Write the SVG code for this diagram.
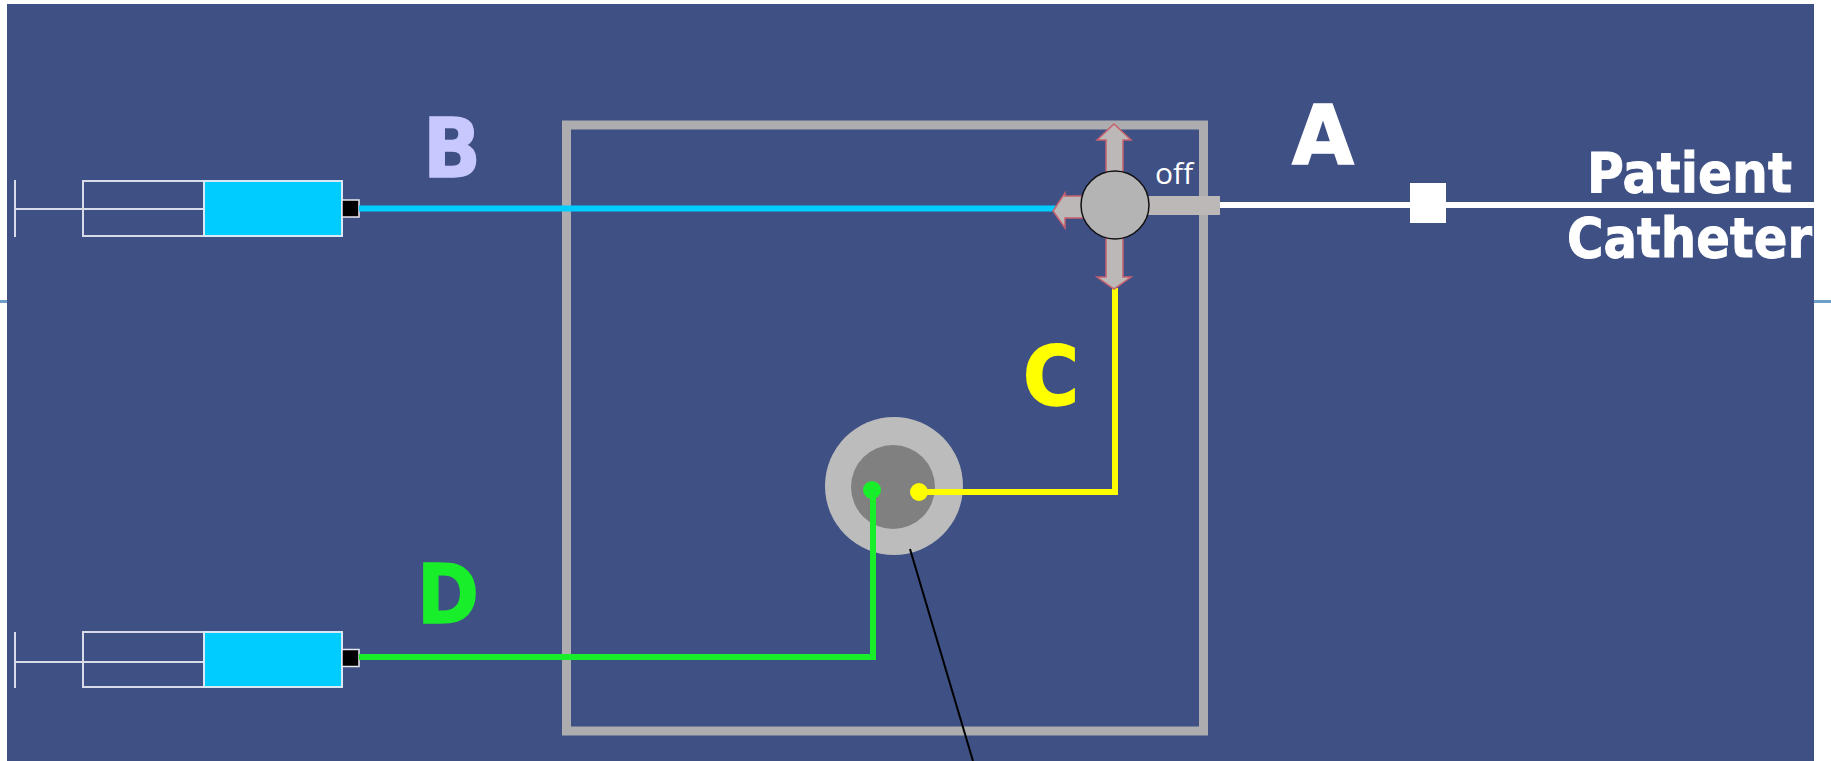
<svg xmlns="http://www.w3.org/2000/svg" width="1831" height="761" viewBox="0 0 1831 761">
<style>
.lbl{font-family:"DejaVu Sans",sans-serif;font-weight:700;font-size:82px;text-anchor:middle;stroke-width:1.500}
.cath{font-family:"DejaVu Sans",sans-serif;font-weight:700;font-size:56px;fill:#fff;stroke:#fff;stroke-width:1}
.syr{fill:none;stroke:#d8dce8;stroke-width:2}
.barrel{fill:#00ccff;stroke:#d8e8f4;stroke-width:2}
.tip{fill:#000;stroke:#e8e8f0;stroke-width:1.500}
.tube{fill:#bdb8b8}
.arm{fill:#bdb8b8;stroke:#c8606e;stroke-width:1.500}
.wire{fill:none;stroke-width:6}
</style>
<rect width="1831" height="761" fill="#fff"/>
<rect x="0" y="300" width="7" height="3" fill="#6f9fc8"/>
<rect x="1814" y="300" width="17" height="3" fill="#6f9fc8"/>
<rect x="7" y="4" width="1807" height="757" fill="#3e5084"/>
<g id="housing"><rect x="566.500" y="125" width="637" height="606" fill="none" stroke="#adadb0" stroke-width="9"/></g>
<g id="syringe-b">
<path class="syr" d="M15 180V237M15 209H204"/>
<rect class="syr" x="83" y="181" width="121" height="55"/>
<rect class="barrel" x="204" y="181" width="138" height="55"/>
<rect class="tip" x="342" y="200" width="17" height="17"/>
</g>
<g id="syringe-d">
<path class="syr" d="M15 632V688M15 662H204"/>
<rect class="syr" x="83" y="632" width="121" height="55"/>
<rect class="barrel" x="204" y="632" width="138" height="55"/>
<rect class="tip" x="342" y="649.500" width="17" height="17"/>
</g>
<g id="filter">
<circle cx="894" cy="486" r="69" fill="#bcbcbc"/>
<circle cx="893" cy="487" r="42" fill="#808080"/>
</g>
<g id="connectors">
<path class="wire" stroke="#00ccff" d="M359 208.500H1056"/>
<path class="wire" stroke="#ffff00" d="M919 492H1115V288"/>
<path class="wire" stroke="#19ee2a" d="M359 657H873V490"/>
<path class="wire" stroke="#fff" d="M1220 205H1814"/>
<path fill="none" stroke="#000" stroke-width="2" d="M910 549L973 761"/>
</g>
<g id="ports">
<circle cx="872" cy="490" r="9" fill="#19ee2a"/>
<circle cx="919" cy="492" r="9" fill="#ffff00"/>
</g>
<g id="stopcock">
<path class="arm" d="M1106 175V140H1097L1114 124L1131 140H1123V175Z"/>
<path class="arm" d="M1106 236V277H1097L1114 289L1131 277H1123V236Z"/>
<path class="arm" d="M1088 196H1065V193L1053 211L1065 228V218H1088Z"/>
<rect class="tube" x="1145" y="196" width="75" height="19"/>
<circle cx="1115" cy="205" r="34" fill="#b4b4b4" stroke="#111" stroke-width="1.500"/>
<text x="1155" y="184" font-family="Open Sans, sans-serif" font-size="30" fill="#fff">off</text>
</g>
<g id="junction"><rect x="1410" y="183" width="36" height="40" fill="#fff"/></g>
<g id="labels">
<text class="lbl" x="452" y="177" fill="#c8c8ff" stroke="#c8c8ff" textLength="58" lengthAdjust="spacingAndGlyphs">B</text>
<text class="lbl" x="1323" y="164" fill="#fff" stroke="#fff" textLength="62" lengthAdjust="spacingAndGlyphs">A</text>
<text class="lbl" x="1051" y="405" fill="#ffff00" stroke="#ffff00" textLength="56" lengthAdjust="spacingAndGlyphs">C</text>
<text class="lbl" x="448" y="623" fill="#19ee2a" stroke="#19ee2a" textLength="62" lengthAdjust="spacingAndGlyphs">D</text>
<text class="cath" x="1587" y="192" textLength="205" lengthAdjust="spacingAndGlyphs">Patient</text>
<text class="cath" x="1567" y="257" textLength="245" lengthAdjust="spacingAndGlyphs">Catheter</text>
</g>
</svg>
